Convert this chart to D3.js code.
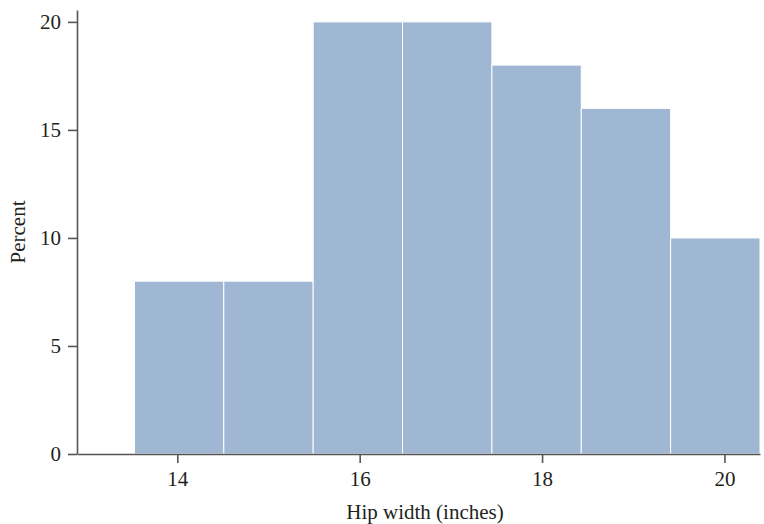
<!DOCTYPE html>
<html>
<head>
<meta charset="utf-8">
<script src="https://cdn.jsdelivr.net/npm/d3@7"></script>
<style>
  html, body { margin: 0; padding: 0; background: #fff; }
  svg { display: block; }
  text { font-family: "Liberation Serif", "Times New Roman", serif; fill: #231f20; }
</style>
</head>
<body>
<svg id="chart" width="764" height="524"></svg>
<script>
const binStarts = [13.53, 14.51, 15.49, 16.47, 17.45, 18.43, 19.41];
const binEnds   = [14.51, 15.49, 16.47, 17.45, 18.43, 19.41, 20.39];
const percents  = [8, 8, 20, 20, 18, 16, 10];
const xTicks = [14, 16, 18, 20];
const yTicks = [0, 5, 10, 15, 20];
const xTitle = "Hip width (inches)";
const yTitle = "Percent";

const svg = d3.select("#chart");
const axisColor = "#555";
const fontSize = 21;

const x = d3.scaleLinear().domain([12.90, 20.39]).range([77, 760]);
const y = d3.scaleLinear().domain([0, 20.55]).range([454, 10]);

const bins = binStarts.map((s, i) => ({ x0: s, x1: binEnds[i], v: percents[i] }));

svg.append("g").selectAll("rect")
  .data(bins)
  .enter().append("rect")
  .attr("x", d => x(d.x0))
  .attr("width", d => x(d.x1) - x(d.x0))
  .attr("y", d => y(d.v))
  .attr("height", d => y(0) - y(d.v))
  .attr("fill", "#9fb7d3")
  .attr("stroke", "#fff")
  .attr("stroke-width", 1);

const xAxis = svg.append("g")
  .attr("transform", `translate(0,${y(0)})`)
  .call(d3.axisBottom(x).tickValues(xTicks).tickFormat(d3.format("d"))
    .tickSize(9).tickSizeOuter(0).tickPadding(8));

const yAxis = svg.append("g")
  .attr("transform", `translate(${x.range()[0]},0)`)
  .call(d3.axisLeft(y).tickValues(yTicks).tickFormat(d3.format("d"))
    .tickSize(9).tickSizeOuter(0).tickPadding(7));

[xAxis, yAxis].forEach(g => {
  g.select(".domain").attr("stroke", axisColor).attr("stroke-width", 1.6);
  g.selectAll(".tick line").attr("stroke", axisColor).attr("stroke-width", 1.6);
  g.selectAll(".tick text")
    .style("font-family", '"Liberation Serif", "Times New Roman", serif')
    .style("font-size", fontSize + "px")
    .attr("fill", "#231f20");
});

svg.append("text")
  .attr("x", 425)
  .attr("y", 519)
  .attr("text-anchor", "middle")
  .style("font-size", fontSize + "px")
  .text(xTitle);

svg.append("text")
  .attr("transform", `translate(25,${(y.range()[0] + y.range()[1]) / 2}) rotate(-90)`)
  .attr("text-anchor", "middle")
  .style("font-size", fontSize + "px")
  .text(yTitle);
</script>
</body>
</html>
